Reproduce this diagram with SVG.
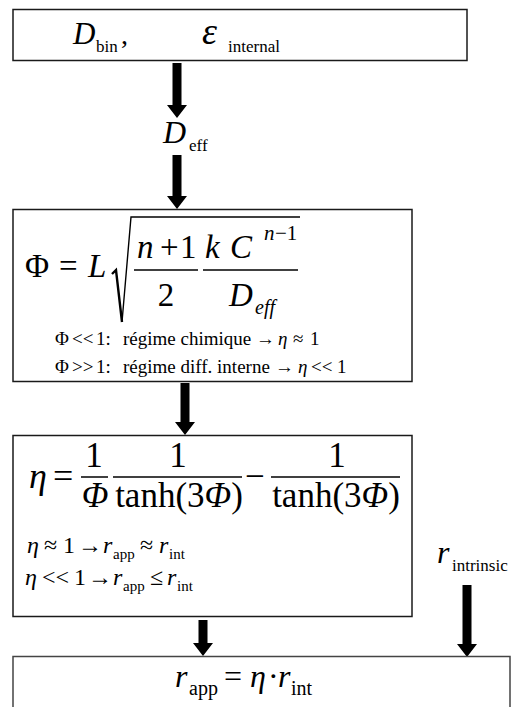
<svg xmlns="http://www.w3.org/2000/svg" width="514" height="707" viewBox="0 0 514 707" font-family="'Liberation Serif', 'DejaVu Serif', serif">
<style>
.box{fill:#fff;stroke:#1a1a1a;stroke-width:1.5}
.t{font-family:'Liberation Serif','DejaVu Serif',serif;fill:#000}
.i{font-style:italic}
.bar{stroke:#000;stroke-width:1.5}
.arr{fill:#000}
</style>
<rect width="514" height="707" fill="#fff"/>
<g id="connectors">
<polygon class="arr" points="172.5,63 181.5,63 181.5,105 187,105 177,118 167,105 172.5,105"/>
<polygon class="arr" points="172.5,155 181.5,155 181.5,196 187,196 177,209 167,196 172.5,196"/>
<polygon class="arr" points="180.5,383 189.5,383 189.5,422 195,422 185,435 175,422 180.5,422"/>
<polygon class="arr" points="198.5,620 207.5,620 207.5,643 213,643 203,656 193,643 198.5,643"/>
<polygon class="arr" points="462.5,585 471.5,585 471.5,644 477,644 467,657 457,644 462.5,644"/>
</g>
<g id="node-inputs">
<rect class="box" x="13" y="9.5" width="454" height="51"/>
<text class="t i" x="73" y="44" font-size="31">D</text>
<text class="t" x="96" y="52" font-size="17">bin</text>
<text class="t" x="121" y="44" font-size="28">,</text>
<text class="t i" x="202" y="44" font-size="38">ε</text>
<text class="t" x="228" y="52" font-size="17">internal</text>
</g>
<g id="node-deff">
<text class="t i" x="163" y="143" font-size="32">D</text>
<text class="t" x="189" y="151" font-size="17">eff</text>
</g>
<g id="node-thiele">
<rect class="box" x="13" y="209.5" width="399" height="172"/>
<text class="t" x="25" y="277" font-size="33">Φ</text>
<text class="t" x="59" y="277" font-size="33">=</text>
<text class="t i" x="88" y="277" font-size="33">L</text>
<path d="M112,274 L116,270 L122,322" fill="none" stroke="#000" stroke-width="2.4"/>
<path d="M122,322 L131,217 L300,217" fill="none" stroke="#000" stroke-width="1.4"/>
<text class="t i" x="137" y="258" font-size="33">n</text>
<text class="t" x="160" y="258" font-size="33">+</text>
<text class="t" x="180" y="258" font-size="33">1</text>
<line class="bar" x1="134" y1="270" x2="198" y2="270"/>
<text class="t" x="166" y="306" font-size="33" text-anchor="middle">2</text>
<text class="t i" x="205" y="258" font-size="33">k</text>
<text class="t i" x="230" y="258" font-size="33">C</text>
<text class="t i" x="264" y="240" font-size="21">n</text>
<text class="t" x="275" y="240" font-size="21">−1</text>
<line class="bar" x1="203" y1="270" x2="298" y2="270"/>
<text class="t i" x="229" y="306" font-size="33">D</text>
<text class="t i" x="255" y="314" font-size="20">eff</text>
<text class="t" y="345" font-size="19"><tspan x="55">Φ</tspan><tspan x="72">&lt;&lt;</tspan><tspan x="96">1</tspan><tspan x="105.5">:</tspan><tspan x="123">régime chimique</tspan><tspan x="256">→</tspan><tspan class="i" x="278">η</tspan><tspan x="293">≈</tspan><tspan x="310">1</tspan></text>
<text class="t" y="373" font-size="19"><tspan x="55">Φ</tspan><tspan x="72">&gt;&gt;</tspan><tspan x="96">1</tspan><tspan x="105.5">:</tspan><tspan x="123">régime diff. interne</tspan><tspan x="275">→</tspan><tspan class="i" x="298">η</tspan><tspan x="311">&lt;&lt;</tspan><tspan x="337">1</tspan></text>
</g>
<g id="node-eta">
<rect class="box" x="13" y="435.5" width="399" height="181"/>
<text class="t i" x="29" y="488" font-size="36">η</text>
<text class="t" x="53" y="488" font-size="36">=</text>
<text class="t" x="94" y="467" font-size="35" text-anchor="middle">1</text>
<line class="bar" x1="81" y1="477" x2="108" y2="477"/>
<text class="t i" x="95" y="507" font-size="35" text-anchor="middle">Φ</text>
<text class="t" x="178" y="467" font-size="35" text-anchor="middle">1</text>
<line class="bar" x1="113" y1="477" x2="242" y2="477"/>
<text class="t" x="179" y="507" font-size="35" text-anchor="middle">tanh(3<tspan class="i">Φ</tspan>)</text>
<text class="t" x="245" y="488" font-size="35">−</text>
<text class="t" x="337" y="467" font-size="35" text-anchor="middle">1</text>
<line class="bar" x1="271" y1="477" x2="400" y2="477"/>
<text class="t" x="336" y="507" font-size="35" text-anchor="middle">tanh(3<tspan class="i">Φ</tspan>)</text>
<text class="t" y="553" font-size="24"><tspan class="i" x="27">η</tspan><tspan x="44">≈</tspan><tspan x="63">1</tspan><tspan x="78">→</tspan><tspan class="i" x="103">r</tspan></text>
<text class="t" x="113" y="559" font-size="15">app</text>
<text class="t" y="553" font-size="24"><tspan x="140">≈</tspan><tspan class="i" x="159">r</tspan></text>
<text class="t" x="169" y="559" font-size="15">int</text>
<text class="t" y="585" font-size="24"><tspan class="i" x="25">η</tspan><tspan x="42">&lt;&lt;</tspan><tspan x="74">1</tspan><tspan x="88">→</tspan><tspan class="i" x="113">r</tspan></text>
<text class="t" x="123" y="591" font-size="15">app</text>
<text class="t" y="585" font-size="24"><tspan x="150">≤</tspan><tspan class="i" x="167">r</tspan></text>
<text class="t" x="177" y="591" font-size="15">int</text>
</g>
<g id="node-rint">
<text class="t i" x="437" y="563" font-size="32">r</text>
<text class="t" x="452" y="571" font-size="17">intrinsic</text>
</g>
<g id="node-rapp">
<rect class="box" x="13" y="656.5" width="497" height="70" style="stroke:#444"/>
<text class="t i" x="175" y="687" font-size="32">r</text>
<text class="t" x="189" y="695" font-size="20">app</text>
<text class="t" x="224" y="687" font-size="32">=</text>
<text class="t i" x="250" y="687" font-size="32">η</text>
<text class="t" x="268" y="687" font-size="32">·</text>
<text class="t i" x="278" y="687" font-size="32">r</text>
<text class="t" x="291" y="695" font-size="20">int</text>
</g>
</svg>
